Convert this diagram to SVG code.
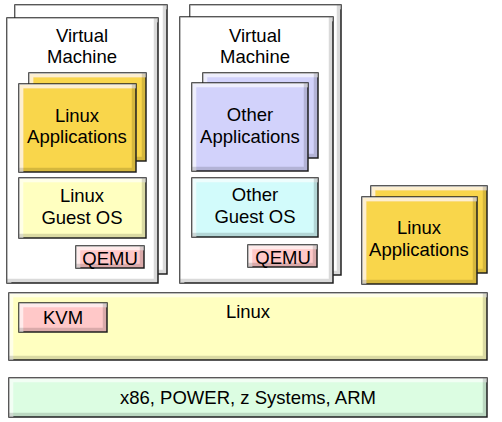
<svg xmlns="http://www.w3.org/2000/svg" width="502" height="422" viewBox="0 0 502 422">
<defs>
<filter id="bevel">
 <feMorphology in="SourceAlpha" operator="erode" radius="1" result="a"/>
 <feOffset in="a" dx="4" dy="4" result="o1"/>
 <feComposite in="a" in2="o1" operator="out" result="tl"/>
 <feFlood flood-color="#ffffff" flood-opacity="0.6"/>
 <feComposite in2="tl" operator="in" result="tlc"/>
 <feOffset in="a" dx="-4" dy="-4" result="o2"/>
 <feComposite in="a" in2="o2" operator="out" result="br"/>
 <feFlood flood-color="#000000" flood-opacity="0.3"/>
 <feComposite in2="br" operator="in" result="brc"/>
 <feMerge><feMergeNode in="SourceGraphic"/><feMergeNode in="tlc"/><feMergeNode in="brc"/></feMerge>
</filter>
<style>
rect{stroke:#222;stroke-width:1.5;filter:url(#bevel)}
.vm{fill:#ffffff}
.app{fill:#f9d64c}
.gos{fill:#ffffc0}
.pink{fill:#ffc8c8}
.oapp{fill:#d2d2fb}
.ogos{fill:#d2fbfb}
.hw{fill:#dcfde2}
text{font-family:"Liberation Sans",Arial,sans-serif;font-size:18.5px;fill:#000;text-anchor:middle}
</style>
</defs>
<rect width="502" height="422" fill="#fff" style="stroke:none;filter:none"/>
<g id="vm1">
<rect class="vm" x="15" y="5" width="152" height="269"/>
<rect class="vm" x="7" y="18" width="151" height="265"/>
<text x="82" y="42">Virtual</text>
<text x="82" y="63">Machine</text>
</g>
<g id="vm1-apps">
<rect class="app" x="29" y="73" width="117" height="88"/>
<rect class="app" x="19" y="84" width="117" height="88"/>
<text x="77" y="122">Linux</text>
<text x="77" y="143">Applications</text>
</g>
<g id="vm1-guest">
<rect class="gos" x="19" y="178" width="127" height="60"/>
<text x="82" y="202">Linux</text>
<text x="82" y="224">Guest OS</text>
</g>
<g id="vm1-qemu">
<rect class="pink" x="76" y="246" width="68" height="22"/>
<text x="110" y="265">QEMU</text>
</g>
<g id="vm2">
<rect class="vm" x="190" y="5" width="151" height="270"/>
<rect class="vm" x="180" y="17" width="153" height="266"/>
<text x="255" y="42">Virtual</text>
<text x="255" y="63">Machine</text>
</g>
<g id="vm2-apps">
<rect class="oapp" x="203" y="73" width="115" height="85"/>
<rect class="oapp" x="192" y="83" width="116" height="88"/>
<text x="250" y="121">Other</text>
<text x="250" y="143">Applications</text>
</g>
<g id="vm2-guest">
<rect class="ogos" x="192" y="178" width="126" height="59"/>
<text x="255" y="201">Other</text>
<text x="255" y="223">Guest OS</text>
</g>
<g id="vm2-qemu">
<rect class="pink" x="248" y="245" width="69" height="22"/>
<text x="283" y="264">QEMU</text>
</g>
<g id="host-apps">
<rect class="app" x="371" y="186" width="116" height="87"/>
<rect class="app" x="362" y="197" width="115" height="87"/>
<text x="419" y="234">Linux</text>
<text x="419" y="256">Applications</text>
</g>
<g id="linux">
<rect class="gos" x="9" y="293" width="478" height="67"/>
<text x="248" y="318">Linux</text>
</g>
<g id="kvm">
<rect class="pink" x="19" y="303" width="88" height="29"/>
<text x="63" y="324">KVM</text>
</g>
<g id="hardware">
<rect class="hw" x="9" y="378" width="478" height="39"/>
<text x="248" y="404">x86, POWER, z Systems, ARM</text>
</g>
<g id="connectors"/>
</svg>
